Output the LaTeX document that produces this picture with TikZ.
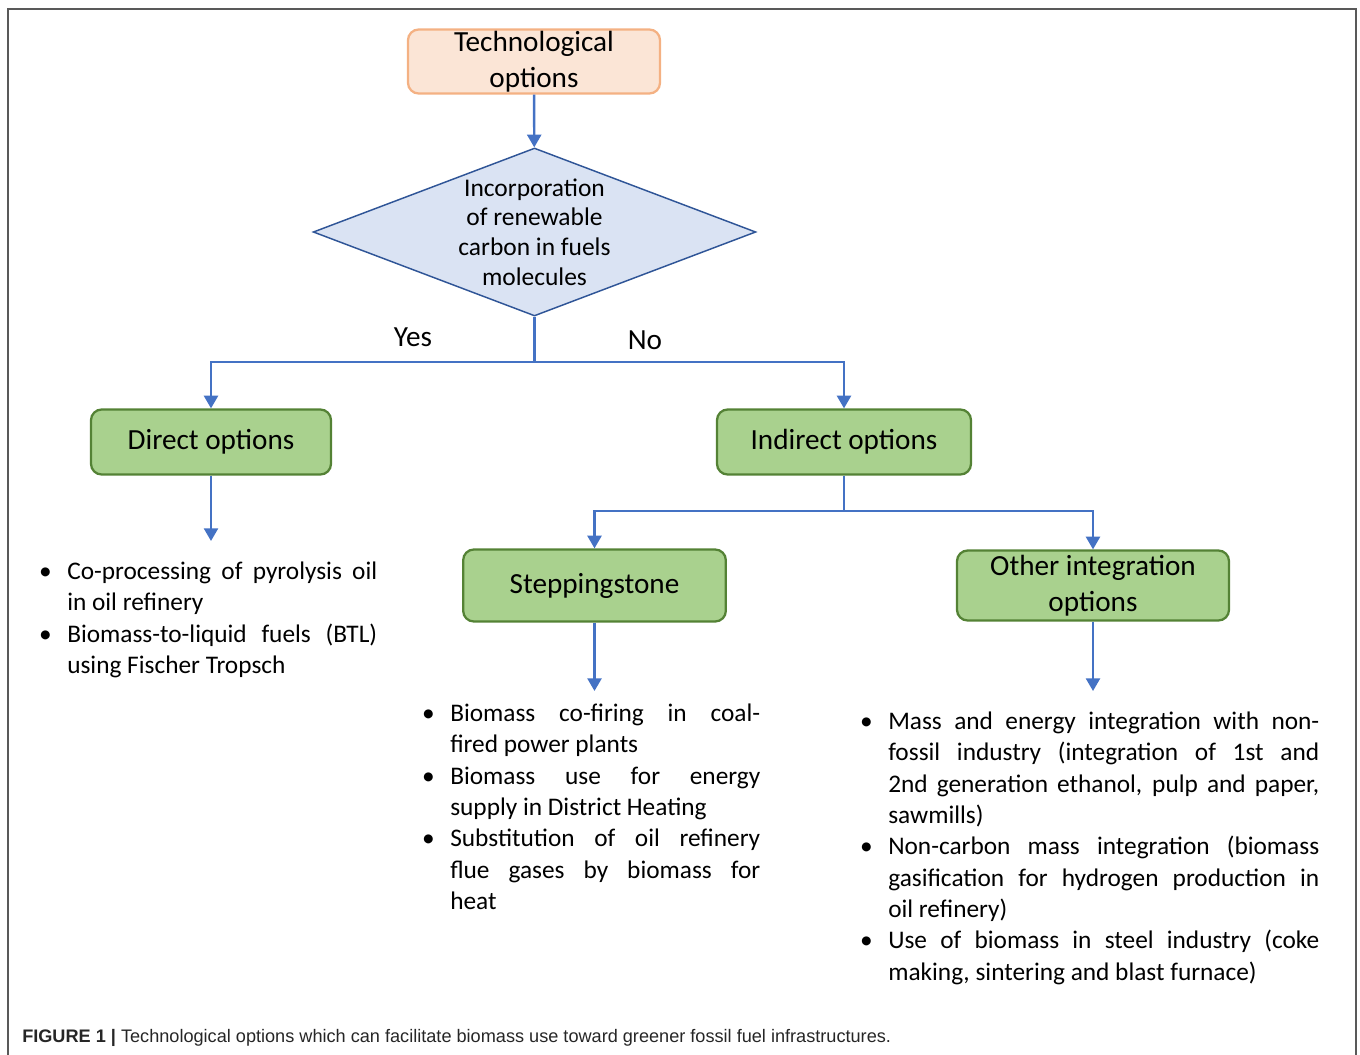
\documentclass[tikz,border=0pt]{standalone}
\usepackage{fontspec}
\setmainfont{Carlito}
\newfontfamily\capfont{Liberation Sans}
\usetikzlibrary{shapes.geometric,arrows.meta}
\definecolor{arrblue}{HTML}{4472C4}
\definecolor{boxgreen}{HTML}{548235}
\definecolor{fillgreen}{HTML}{A9D18E}
\definecolor{peachfill}{HTML}{FBE5D6}
\definecolor{peachdraw}{HTML}{F4B183}
\definecolor{decfill}{HTML}{DAE3F3}
\definecolor{decdraw}{HTML}{2F5597}
\newcommand{\lstpar}{\tolerance=9999 \hyphenpenalty=10000 \exhyphenpenalty=10000 \relax}
\newcommand{\bitem}{\par\leavevmode\llap{\textbullet\hspace{11.6pt}}}

\begin{document}
\begin{tikzpicture}[x=0.75pt,y=-0.75pt,
		box/.style={draw=boxgreen,fill=fillgreen,line width=1.7pt,rounded corners=8pt,inner sep=0pt,align=center,font=\fontsize{21.9}{27}\selectfont},
		lnk/.style={draw=arrblue,line width=1.8pt},
		arr/.style={lnk,-{Triangle[width=10.5pt,length=9.5pt]}},
		lst/.style={anchor=base west,inner sep=0pt,align=justify,font=\fontsize{19}{23.5}\selectfont}]
					\useasboundingbox (0,0) rectangle (1360,1054);
					\draw[color=black!65,line width=1.2pt] (8,1060) -- (8,9) -- (1356,9) -- (1356,1060);
					% boxes
					\node[box,draw=peachdraw,fill=peachfill,minimum width=189pt,minimum height=48pt] (a) at (534,61.5) {Technological\\options};
					\node[shape=diamond,draw=decdraw,fill=decfill,line width=1.1pt,aspect=2.64,inner sep=0pt,minimum width=332pt,minimum height=126pt,align=center,font=\fontsize{19.1}{22.3}\selectfont] (b) at (534.5,232) {Incorporation\\of renewable\\carbon in fuels\\molecules};
					\node[box,minimum width=180pt,minimum height=48.75pt] (c) at (211,442) {Direct options};
					\node[box,minimum width=190.5pt,minimum height=48.75pt] (d) at (844,442) {Indirect options};
					\node[box,minimum width=197pt,minimum height=54pt] (e) at (594.5,585.5) {Steppingstone};
					\node[box,minimum width=204pt,minimum height=52.5pt] (f) at (1093,585.5) {Other integration\\options};
					\node[font=\fontsize{21.9}{27}\selectfont] (y) at (413,337) {Yes};
					\node[font=\fontsize{21.9}{27}\selectfont] (n) at (645,340) {No};
					% connectors
					\coordinate (s1) at (534.5,362);
					\coordinate (s2) at (844,511);
					\coordinate (c1) at (211,541);
					\coordinate (e1) at (594.5,691);
					\coordinate (f1) at (1093,691);
					\draw[arr] (a) -- (b);
					\draw[lnk] (b.south) -- (s1);
					\draw[arr] (s1) -| (c);
					\draw[arr] (s1) -| (d);
					\draw[lnk] (d) -- (s2);
					\draw[arr] (s2) -| (e);
					\draw[arr] (s2) -| (f);
					\draw[arr] (c) -- (c1);
					\draw[arr] (e) -- (e1);
					\draw[arr] (f) -- (f1);
					% lists
					\node[lst,text width=232.5pt] (l1) at (67,548) {\lstpar
						\bitem Co-processing of pyrolysis oil\linebreak in oil refinery
						\bitem Biomass-to-liquid fuels (BTL)\linebreak using Fischer Tropsch};
					\node[lst,text width=232.5pt] (l2) at (450,690) {\lstpar
						\bitem Biomass co-firing in coal-\linebreak fired power plants
						\bitem Biomass use for energy\linebreak supply in District Heating
						\bitem Substitution of oil refinery\linebreak flue gases by biomass for\linebreak heat};
					\node[lst,text width=323.25pt] (l3) at (888,698) {\lstpar
						\bitem Mass and energy integration with non-\linebreak fossil industry (integration of 1st and\linebreak 2nd generation ethanol, pulp and paper,\linebreak sawmills)
						\bitem Non-carbon mass integration (biomass\linebreak gasification for hydrogen production in\linebreak oil refinery)
						\bitem Use of biomass in steel industry (coke\linebreak making, sintering and blast furnace)};
					% caption
					\node[anchor=base west,inner sep=0pt,font=\capfont\fontsize{13.6}{16}\selectfont,color=black!85] (g) at (22,1042) {\textbf{FIGURE 1 |} Technological options which can facilitate biomass use toward greener fossil fuel infrastructures.};
				\end{tikzpicture}
\end{document}
